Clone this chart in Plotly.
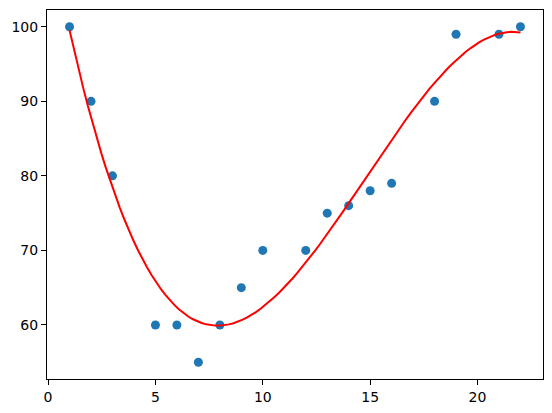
import numpy as np
import plotly.graph_objects as go

# hour of day vs speed observations
x = [1, 2, 3, 5, 6, 7, 8, 9, 10, 12, 13, 14, 15, 16, 18, 19, 21, 22]
y = [100, 90, 80, 60, 60, 55, 60, 65, 70, 70, 75, 76, 78, 79, 90, 99, 99, 100]

# 3rd degree polynomial regression line
model = np.poly1d(np.polyfit(x, y, 3))
line_x = np.linspace(1, 22, 100)
line_y = model(line_x)

fig = go.Figure()
fig.add_trace(go.Scatter(x=x, y=y, mode="markers",
                         marker=dict(color="#1f77b4", size=9, line=dict(width=0))))
fig.add_trace(go.Scatter(x=line_x, y=line_y, mode="lines",
                         line=dict(color="red", width=2)))

axis_style = dict(showgrid=False, zeroline=False, showline=True, linecolor="black",
                  linewidth=1.1, mirror=True, ticks="outside", ticklen=5, tickwidth=1.1,
                  tickcolor="black", automargin=False,
                  tickfont=dict(family="DejaVu Sans", size=14, color="black"))

# page body adds an 8px margin, so the figure is shrunk by that much
fig.update_layout(
    width=544, height=405,
    margin=dict(l=39, r=9, t=2, b=34),
    plot_bgcolor="white", paper_bgcolor="white",
    showlegend=False,
    xaxis=dict(range=[-0.05, 23.05], tickvals=[0, 5, 10, 15, 20], **axis_style),
    yaxis=dict(range=[52.75, 102.25], tickvals=[60, 70, 80, 90, 100], **axis_style),
)

fig.write_html("out.html")
